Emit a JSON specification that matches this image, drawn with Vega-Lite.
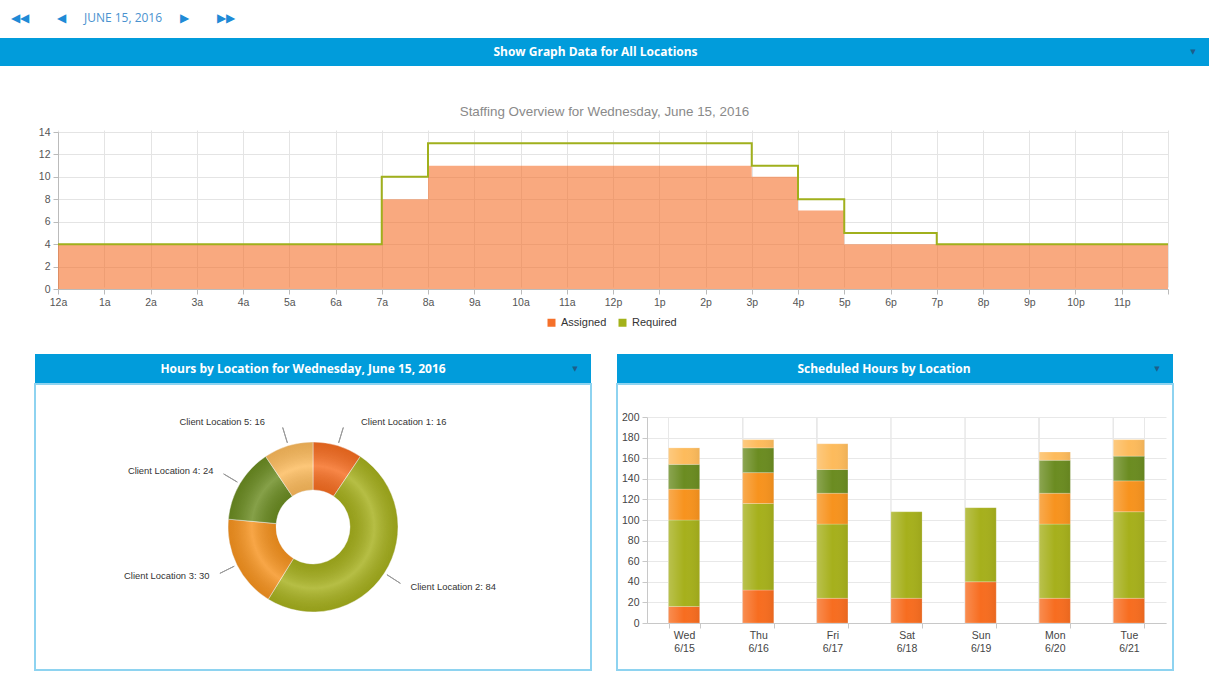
{
  "$schema": "https://vega.github.io/schema/vega-lite/v6.json",
  "padding": 0,
  "background": "white",
  "spacing": 0,
  "config": {
    "view": {"stroke": null},
    "font": "Liberation Sans",
    "text": {"font": "Liberation Sans"}
  },
  "resolve": {"scale": {"color": "independent"}, "legend": {"color": "independent"}},
  "datasets": {
    "staff": [
      {"hour": 0, "series": "Assigned", "value": 4},
      {"hour": 7, "series": "Assigned", "value": 8},
      {"hour": 8, "series": "Assigned", "value": 11},
      {"hour": 15, "series": "Assigned", "value": 10},
      {"hour": 16, "series": "Assigned", "value": 7},
      {"hour": 17, "series": "Assigned", "value": 4},
      {"hour": 24, "series": "Assigned", "value": 4},
      {"hour": 0, "series": "Required", "value": 4},
      {"hour": 7, "series": "Required", "value": 10},
      {"hour": 8, "series": "Required", "value": 13},
      {"hour": 15, "series": "Required", "value": 11},
      {"hour": 16, "series": "Required", "value": 8},
      {"hour": 17, "series": "Required", "value": 5},
      {"hour": 19, "series": "Required", "value": 4},
      {"hour": 24, "series": "Required", "value": 4}
    ],
    "today": [
      {"loc": "Client Location 1", "hours": 16, "label": "Client Location 1: 16"},
      {"loc": "Client Location 2", "hours": 84, "label": "Client Location 2: 84"},
      {"loc": "Client Location 3", "hours": 30, "label": "Client Location 3: 30"},
      {"loc": "Client Location 4", "hours": 24, "label": "Client Location 4: 24"},
      {"loc": "Client Location 5", "hours": 16, "label": "Client Location 5: 16"}
    ],
    "week": [
      {"day": "Wed 6/15", "loc": "Client Location 1", "hours": 16},
      {"day": "Wed 6/15", "loc": "Client Location 2", "hours": 84},
      {"day": "Wed 6/15", "loc": "Client Location 3", "hours": 30},
      {"day": "Wed 6/15", "loc": "Client Location 4", "hours": 24},
      {"day": "Wed 6/15", "loc": "Client Location 5", "hours": 16},
      {"day": "Thu 6/16", "loc": "Client Location 1", "hours": 32},
      {"day": "Thu 6/16", "loc": "Client Location 2", "hours": 84},
      {"day": "Thu 6/16", "loc": "Client Location 3", "hours": 30},
      {"day": "Thu 6/16", "loc": "Client Location 4", "hours": 24},
      {"day": "Thu 6/16", "loc": "Client Location 5", "hours": 8},
      {"day": "Fri 6/17", "loc": "Client Location 1", "hours": 24},
      {"day": "Fri 6/17", "loc": "Client Location 2", "hours": 72},
      {"day": "Fri 6/17", "loc": "Client Location 3", "hours": 30},
      {"day": "Fri 6/17", "loc": "Client Location 4", "hours": 23},
      {"day": "Fri 6/17", "loc": "Client Location 5", "hours": 25},
      {"day": "Sat 6/18", "loc": "Client Location 1", "hours": 24},
      {"day": "Sat 6/18", "loc": "Client Location 2", "hours": 84},
      {"day": "Sun 6/19", "loc": "Client Location 1", "hours": 40},
      {"day": "Sun 6/19", "loc": "Client Location 2", "hours": 72},
      {"day": "Mon 6/20", "loc": "Client Location 1", "hours": 24},
      {"day": "Mon 6/20", "loc": "Client Location 2", "hours": 72},
      {"day": "Mon 6/20", "loc": "Client Location 3", "hours": 30},
      {"day": "Mon 6/20", "loc": "Client Location 4", "hours": 32},
      {"day": "Mon 6/20", "loc": "Client Location 5", "hours": 8},
      {"day": "Tue 6/21", "loc": "Client Location 1", "hours": 24},
      {"day": "Tue 6/21", "loc": "Client Location 2", "hours": 84},
      {"day": "Tue 6/21", "loc": "Client Location 3", "hours": 30},
      {"day": "Tue 6/21", "loc": "Client Location 4", "hours": 24},
      {"day": "Tue 6/21", "loc": "Client Location 5", "hours": 16}
    ]
  },
  "vconcat": [
    {
      "width": 1211,
      "height": 38,
      "data": {"values": [{"t": "◀◀"}, {"t": "◀"}, {"t": "JUNE 15, 2016"}, {"t": "▶"}, {"t": "▶▶"}]},
      "mark": {"type": "text", "font": "Open Sans", "dy": -1},
      "encoding": {
        "x": {"field": "t", "type": "nominal", "axis": null,
          "scale": {"type": "point", "range": [20, 226], "padding": 0,
            "domain": ["◀◀", "s1", "◀", "s2", "s3", "JUNE 15, 2016", "s4", "s5", "▶", "s6", "▶▶"]}},
        "text": {"field": "t"},
        "size": {"value": 12},
        "color": {"condition": {"test": "datum.t == 'JUNE 15, 2016'", "value": "#4a92cf"}, "value": "#1f8ad6"}
      }
    },
    {
      "width": 1209,
      "height": 28,
      "view": {"fill": "#019cdb", "stroke": null},
      "data": {"values": [{"label": "Show Graph Data for All Locations"}]},
      "layer": [
        {"mark": {"type": "text", "font": "Open Sans", "fontWeight": "bold", "fontSize": 12, "color": "#ffffff", "dx": -9}, "encoding": {"text": {"field": "label"}}},
        {"mark": {"type": "text", "text": "▼", "font": "DejaVu Sans", "fontSize": 7, "color": "#1d5e8a", "dx": -16}, "encoding": {"x": {"value": "width"}}}
      ]
    },
    {
      "width": 1209,
      "height": 287,
      "data": {"name": "staff"},
      "title": {"text": "Staffing Overview for Wednesday, June 15, 2016", "fontSize": 13.4, "fontWeight": "normal", "color": "#8a8a8a", "font": "Liberation Sans", "offset": -59, "baseline": "middle", "anchor": "middle"},
      "encoding": {
        "x": {"field": "hour", "type": "quantitative",
          "scale": {"domain": [0, 24], "range": [58, 1168], "nice": false, "zero": false},
          "axis": {"values": [0,1,2,3,4,5,6,7,8,9,10,11,12,13,14,15,16,17,18,19,20,21,22,23,24], "offset": -64, "title": null,
            "labelExpr": "datum.value == 24 ? '' : datum.value == 0 ? '12a' : datum.value < 12 ? datum.value + 'a' : datum.value == 12 ? '12p' : (datum.value - 12) + 'p'",
            "grid": true, "gridColor": "#e4e4e4", "domainColor": "#bbbbbb", "tickColor": "#bbbbbb", "tickSize": 5,
            "labelFontSize": 10.5, "labelColor": "#555555", "labelPadding": 3, "labelFlush": false, "labelOverlap": false}},
        "y": {"field": "value", "type": "quantitative",
          "scale": {"domain": [0, 14], "range": [223, 66], "nice": false, "zero": false},
          "axis": {"values": [0,2,4,6,8,10,12,14], "offset": -58, "title": null,
            "grid": true, "gridColor": "#e4e4e4", "domainColor": "#bbbbbb", "tickColor": "#bbbbbb", "tickSize": 5,
            "labelFontSize": 10.5, "labelColor": "#555555", "labelPadding": 3, "labelOverlap": false}}
      },
      "layer": [
        {
          "transform": [{"filter": "datum.series == 'Assigned'"}],
          "mark": {"type": "area", "interpolate": "step-after", "opacity": 0.6},
          "encoding": {
            "color": {"field": "series", "type": "nominal",
              "scale": {"domain": ["Assigned", "Required"], "range": ["#f5702a", "#a3b21a"]},
              "legend": {"orient": "none", "legendX": 546, "legendY": 251, "direction": "horizontal", "title": null,
                "symbolType": "square", "symbolSize": 64, "symbolOpacity": 1, "symbolStrokeWidth": 0,
                "labelFontSize": 11, "labelColor": "#333333", "columnPadding": 10, "labelOffset": 4, "padding": 0}}
          }
        },
        {
          "transform": [{"filter": "datum.series == 'Required'"}],
          "mark": {"type": "line", "interpolate": "step-after", "strokeWidth": 2, "color": "#a0b01c"},
          "encoding": {}
        }
      ]
    },
    {
      "spacing": 24,
      "hconcat": [
        {
          "width": 10,
          "height": 10,
          "data": {"values": [{}]},
          "mark": {"type": "text", "text": ""},
          "encoding": {}
        },
        {
          "spacing": 0,
          "vconcat": [
            {
              "width": 556,
              "height": 29,
              "view": {"fill": "#019cdb", "stroke": null},
              "data": {"values": [{"label": "Hours by Location for Wednesday, June 15, 2016"}]},
              "layer": [
                {"mark": {"type": "text", "font": "Open Sans", "fontWeight": "bold", "fontSize": 12, "color": "#ffffff", "dx": -10}, "encoding": {"text": {"field": "label"}}},
                {"mark": {"type": "text", "text": "▼", "font": "DejaVu Sans", "fontSize": 7, "color": "#1d5e8a", "dx": -16}, "encoding": {"x": {"value": "width"}}}
              ]
            },
            {
              "width": 556,
              "height": 286,
              "view": {"fill": "#ffffff", "stroke": "#8ed3f0", "strokeWidth": 2},
              "data": {"name": "today"},
              "encoding": {
                "theta": {"field": "hours", "type": "quantitative", "stack": true},
                "order": {"field": "loc", "sort": "ascending"}
              },
              "layer": [
                {
                  "mark": {"type": "arc", "outerRadius": 85, "innerRadius": 37, "stroke": "#ffffff", "strokeWidth": 0.5},
                  "encoding": {
                    "color": {"field": "loc", "type": "nominal",
                      "scale": {"domain": ["Client Location 1", "Client Location 2", "Client Location 3", "Client Location 4", "Client Location 5"],
                        "range": ["#f76d20", "#a6b01c", "#f7931e", "#6b8c21", "#fdbb5c"]}, "legend": null}
                  }
                },
                {
                  "data": {"values": [{}]},
                  "mark": {"type": "arc", "outerRadius": 85, "innerRadius": 37, "theta": 0, "theta2": 6.2832,
                    "fill": {"gradient": "radial", "x1": 0.5, "y1": 0.5, "r1": 0, "x2": 0.5, "y2": 0.5, "r2": 0.5,
                      "stops": [
                        {"offset": 0.43, "color": "rgba(0,0,0,0.10)"},
                        {"offset": 0.72, "color": "rgba(255,255,255,0.18)"},
                        {"offset": 1, "color": "rgba(0,0,0,0.10)"}
                      ]}},
                  "encoding": {"theta": null, "order": null}
                },
                {
                  "mark": {"type": "arc", "padAngle": 3.1416, "innerRadius": 88, "outerRadius": 104, "fill": "transparent", "stroke": "#999999", "strokeWidth": 1},
                  "encoding": {"detail": {"field": "loc"}}
                },
                {
                  "mark": {"type": "text", "radius": 110, "align": "left", "dx": 16, "fontSize": 9.4, "color": "#333333"},
                  "encoding": {
                    "detail": {"field": "loc"},
                    "text": {"field": "label"},
                    "opacity": {"condition": {"test": "datum.loc == 'Client Location 1'", "value": 1}, "value": 0}
                  }
                },
                {
                  "mark": {"type": "text", "radius": 110, "align": "left", "dx": 5, "fontSize": 9.4, "color": "#333333"},
                  "encoding": {
                    "detail": {"field": "loc"},
                    "text": {"field": "label"},
                    "opacity": {"condition": {"test": "datum.loc == 'Client Location 2'", "value": 1}, "value": 0}
                  }
                },
                {
                  "mark": {"type": "text", "radius": 110, "align": "right", "dx": -5, "fontSize": 9.4, "color": "#333333"},
                  "encoding": {
                    "detail": {"field": "loc"},
                    "text": {"field": "label"},
                    "opacity": {"condition": {"test": "datum.loc == 'Client Location 3' || datum.loc == 'Client Location 4'", "value": 1}, "value": 0}
                  }
                },
                {
                  "mark": {"type": "text", "radius": 110, "align": "right", "dx": -16, "fontSize": 9.4, "color": "#333333"},
                  "encoding": {
                    "detail": {"field": "loc"},
                    "text": {"field": "label"},
                    "opacity": {"condition": {"test": "datum.loc == 'Client Location 5'", "value": 1}, "value": 0}
                  }
                }
              ]
            }
          ]
        },
        {
          "spacing": 0,
          "vconcat": [
            {
              "width": 556,
              "height": 29,
              "view": {"fill": "#019cdb", "stroke": null},
              "data": {"values": [{"label": "Scheduled Hours by Location"}]},
              "layer": [
                {"mark": {"type": "text", "font": "Open Sans", "fontWeight": "bold", "fontSize": 12, "color": "#ffffff", "dx": -11}, "encoding": {"text": {"field": "label"}}},
                {"mark": {"type": "text", "text": "▼", "font": "DejaVu Sans", "fontSize": 7, "color": "#1d5e8a", "dx": -16}, "encoding": {"x": {"value": "width"}}}
              ]
            },
            {
              "width": 556,
              "height": 286,
              "view": {"fill": "#ffffff", "stroke": "#8ed3f0", "strokeWidth": 2},
              "data": {"name": "week"},
              "encoding": {
                "x": {"field": "day", "type": "nominal", "sort": null,
                  "scale": {"range": [30, 549], "paddingInner": 0.58, "paddingOuter": 0.29},
                  "axis": {"offset": -47, "title": null, "labelAngle": 0, "labelExpr": "split(datum.label, ' ')",
                    "tickBand": "extent", "grid": false, "domainColor": "#c8c8c8", "tickColor": "#c8c8c8",
                    "tickSize": 5, "labelFontSize": 10.5, "labelColor": "#444444", "labelPadding": 2, "labelLineHeight": 13}},
                "y": {"field": "hours", "type": "quantitative", "stack": true,
                  "scale": {"domain": [0, 200], "range": [239, 33], "nice": false, "zero": true},
                  "axis": {"values": [0,20,40,60,80,100,120,140,160,180,200], "offset": -30, "title": null,
                    "grid": true, "gridColor": "#e8e8e8", "domainColor": "#c8c8c8", "tickColor": "#c8c8c8",
                    "tickSize": 5, "labelFontSize": 10.5, "labelColor": "#444444", "labelPadding": 3, "labelOverlap": false, "labelBound": false}},
                "order": {"field": "loc", "sort": "ascending"}
              },
              "layer": [
                {
                  "mark": {"type": "rule", "color": "#e8e8e8", "strokeWidth": 1},
                  "encoding": {
                    "x": {"field": "day", "type": "nominal", "sort": null, "bandPosition": 0,
                      "axis": {"offset": -47, "title": null, "labelAngle": 0, "labelExpr": "split(datum.label, ' ')",
                        "tickBand": "extent", "grid": false, "domainColor": "#c8c8c8", "tickColor": "#c8c8c8",
                        "tickSize": 5, "labelFontSize": 10.5, "labelColor": "#444444", "labelPadding": 2, "labelLineHeight": 13}},
                    "y": {"datum": 0, "type": "quantitative"},
                    "y2": {"datum": 200},
                    "order": null
                  }
                },
                {
                  "transform": [{"filter": "datum.day == 'Tue 6/21'"}],
                  "mark": {"type": "rule", "color": "#e8e8e8", "strokeWidth": 1},
                  "encoding": {
                    "x": {"field": "day", "type": "nominal", "sort": null, "bandPosition": 1,
                      "axis": {"offset": -47, "title": null, "labelAngle": 0, "labelExpr": "split(datum.label, ' ')",
                        "tickBand": "extent", "grid": false, "domainColor": "#c8c8c8", "tickColor": "#c8c8c8",
                        "tickSize": 5, "labelFontSize": 10.5, "labelColor": "#444444", "labelPadding": 2, "labelLineHeight": 13}},
                    "y": {"datum": 0, "type": "quantitative"},
                    "y2": {"datum": 200},
                    "order": null
                  }
                },
                {
                  "mark": {"type": "bar", "stroke": "#ffffff", "strokeOpacity": 0.35, "strokeWidth": 0.6},
                  "encoding": {
                    "color": {"field": "loc", "type": "nominal",
                      "scale": {"domain": ["Client Location 1", "Client Location 2", "Client Location 3", "Client Location 4", "Client Location 5"],
                        "range": ["#f76d20", "#a6b01c", "#f7931e", "#6b8c21", "#fdbb5c"]}, "legend": null}
                  }
                },
                {
                  "mark": {"type": "bar",
                    "fill": {"gradient": "linear", "x1": 0, "y1": 0, "x2": 1, "y2": 0,
                      "stops": [
                        {"offset": 0, "color": "rgba(255,255,255,0.22)"},
                        {"offset": 0.5, "color": "rgba(255,255,255,0.0)"},
                        {"offset": 1, "color": "rgba(0,0,0,0.06)"}
                      ]}},
                  "encoding": {"detail": {"field": "loc"}}
                }
              ]
            }
          ]
        }
      ]
    }
  ]
}
